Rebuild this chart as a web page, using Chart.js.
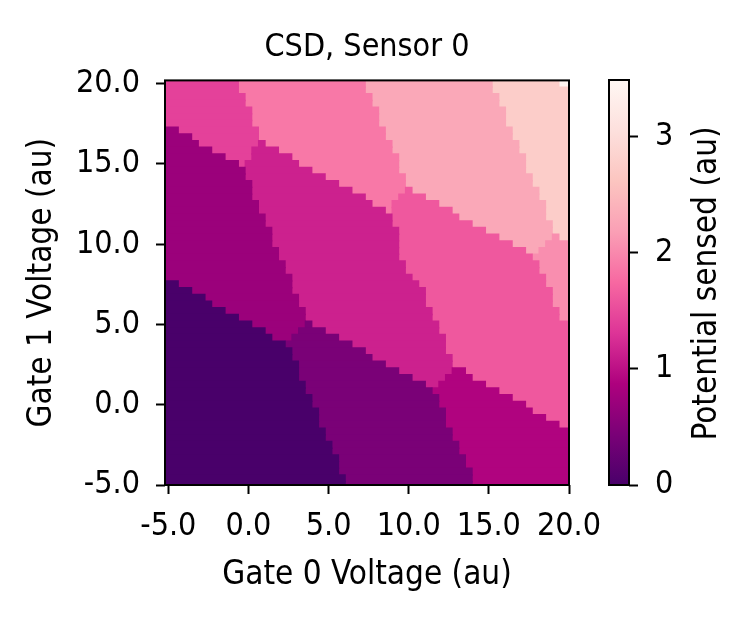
<!DOCTYPE html>
<html>
<head>
<meta charset="utf-8">
<script src="https://cdn.jsdelivr.net/npm/chart.js@4.4.1/dist/chart.umd.min.js"></script>
<style>
  html, body { margin: 0; padding: 0; background: #fff; }
  #wrap { position: relative; width: 756px; height: 623px; }
  #csd { position: absolute; left: 0; top: 0; }
  #cbar { position: absolute; left: 590px; top: 0; }
</style>
</head>
<body>
<div id="wrap">
  <canvas id="csd" width="756" height="623"></canvas>
  <canvas id="cbar" width="166" height="623"></canvas>
</div>
<script>
// gate voltage grid (both gates share it): 61 points from -5 to 20
const gridStart = -5;
const gridStep = 25 / 60;
const gridCount = 61;

const xTicks = [-5, 0, 5, 10, 15, 20];
const yTicks = [-5, 0, 5, 10, 15, 20];
const colorTicks = [0, 1, 2, 3];
const colorMax = 3.49;

// sensed potential of each charge region (index used in rowRuns)
const levelValues = [0.0, 0.44, 0.71, 0.89, 1.15, 1.42, 1.61, 1.87, 2.05, 2.29, 2.75, 3.42];

// one entry per Gate 1 row, top (20.0) to bottom (-5.0): [level, first column]
const rowRuns = [
  [[5,0],[7,11],[9,30],[10,49],[11,59]],
  [[5,0],[7,11],[9,30],[10,49]],
  [[5,0],[7,12],[9,31],[10,50]],
  [[5,0],[7,12],[9,31],[10,50]],
  [[5,0],[7,13],[9,32],[10,51]],
  [[5,0],[7,13],[9,32],[10,51]],
  [[5,0],[7,13],[9,32],[10,51]],
  [[2,0],[5,2],[7,14],[9,33],[10,52]],
  [[2,0],[5,4],[7,14],[9,33],[10,52]],
  [[2,0],[5,5],[4,14],[7,15],[9,34],[10,53]],
  [[2,0],[5,7],[4,13],[7,17],[9,34],[10,53]],
  [[2,0],[5,9],[4,13],[7,19],[9,35],[10,54]],
  [[2,0],[5,11],[4,12],[7,20],[9,35],[10,54]],
  [[2,0],[4,12],[7,22],[9,35],[10,54]],
  [[2,0],[4,12],[7,24],[9,36],[10,55]],
  [[2,0],[4,13],[7,26],[9,36],[10,55]],
  [[2,0],[4,13],[7,28],[6,36],[9,37],[10,56]],
  [[2,0],[4,13],[7,30],[6,35],[9,39],[10,56]],
  [[2,0],[4,14],[7,31],[6,34],[9,41],[10,57]],
  [[2,0],[4,14],[7,33],[6,34],[9,43],[10,57]],
  [[2,0],[4,15],[6,34],[9,44],[10,57]],
  [[2,0],[4,15],[6,34],[9,46],[10,58]],
  [[2,0],[4,16],[6,35],[9,48],[10,58]],
  [[2,0],[4,16],[6,35],[9,50],[8,58],[10,59]],
  [[2,0],[4,16],[6,35],[9,52],[8,57]],
  [[2,0],[4,17],[6,35],[9,54],[8,56]],
  [[2,0],[4,17],[6,35],[8,55]],
  [[2,0],[4,18],[6,36],[8,56]],
  [[2,0],[4,18],[6,36],[8,56]],
  [[2,0],[4,19],[6,37],[8,57]],
  [[0,0],[2,2],[4,19],[6,38],[8,57]],
  [[0,0],[2,4],[4,19],[6,39],[8,58]],
  [[0,0],[2,6],[4,20],[6,39],[8,58]],
  [[0,0],[2,7],[4,20],[6,39],[8,58]],
  [[0,0],[2,9],[4,21],[6,40],[8,59]],
  [[0,0],[2,11],[4,21],[6,40],[8,59]],
  [[0,0],[2,13],[1,21],[4,22],[6,41]],
  [[0,0],[2,15],[1,20],[4,24],[6,41]],
  [[0,0],[2,16],[1,19],[4,26],[6,42]],
  [[0,0],[1,18],[4,28],[6,42]],
  [[0,0],[1,19],[4,30],[6,42]],
  [[0,0],[1,19],[4,31],[6,43]],
  [[0,0],[1,20],[4,33],[6,43]],
  [[0,0],[1,20],[4,35],[3,43],[6,45]],
  [[0,0],[1,20],[4,37],[3,42],[6,46]],
  [[0,0],[1,21],[4,39],[3,41],[6,48]],
  [[0,0],[1,21],[3,40],[6,50]],
  [[0,0],[1,22],[3,41],[6,52]],
  [[0,0],[1,22],[3,41],[6,54]],
  [[0,0],[1,23],[3,42],[6,55]],
  [[0,0],[1,23],[3,42],[6,57]],
  [[0,0],[1,23],[3,42],[6,59]],
  [[0,0],[1,24],[3,43]],
  [[0,0],[1,24],[3,43]],
  [[0,0],[1,25],[3,44]],
  [[0,0],[1,25],[3,44]],
  [[0,0],[1,26],[3,45]],
  [[0,0],[1,26],[3,45]],
  [[0,0],[1,26],[3,46]],
  [[0,0],[1,27],[3,46]],
  [[0,0],[1,27],[3,46]]
];

// RdPu reversed
const cmapStops = ['#49006a', '#7a0177', '#ae017e', '#dd3497', '#f768a1', '#fa9fb5', '#fcc5c0', '#fde0dd', '#fff7f3'];
const FONT = '"DejaVu Sans Condensed", "DejaVu Sans", sans-serif';

Chart.defaults.font.family = FONT;
Chart.defaults.font.size = 32;
Chart.defaults.color = '#000';

function hexToRgb(h) {
  return [1, 3, 5].map(i => parseInt(h.slice(i, i + 2), 16));
}

function colorFor(v) {
  const t = Math.min(1, Math.max(0, v / colorMax)) * (cmapStops.length - 1);
  const i = Math.min(Math.floor(t), cmapStops.length - 2);
  const f = t - i;
  const a = hexToRgb(cmapStops[i]);
  const b = hexToRgb(cmapStops[i + 1]);
  const c = a.map((av, k) => Math.round(av + (b[k] - av) * f));
  return `rgb(${c[0]}, ${c[1]}, ${c[2]})`;
}

const half = gridStep / 2;
const yTop = gridStart + (gridCount - 1) * gridStep;

// one floating-bar dataset per charge region
const datasets = levelValues.map((v, level) => {
  const data = [];
  rowRuns.forEach((runs, row) => {
    runs.forEach((run, j) => {
      if (run[0] !== level) return;
      const first = run[1];
      const last = (j + 1 < runs.length ? runs[j + 1][1] : gridCount) - 1;
      data.push({
        x: [gridStart + first * gridStep - half, gridStart + last * gridStep + half],
        y: yTop - row * gridStep
      });
    });
  });
  return {
    label: 'level ' + level,
    data,
    backgroundColor: colorFor(v),
    borderWidth: 0,
    inflateAmount: 0.5,
    barPercentage: 1.06,   // slight overlap so rows leave no seams
    categoryPercentage: 1,
    grouped: false,
    clip: 0
  };
});

const framePlugin = {
  id: 'frame',
  afterDatasetsDraw(chart) {
    const { ctx, chartArea: a } = chart;
    ctx.save();
    ctx.strokeStyle = '#000';
    ctx.lineWidth = 2;
    ctx.strokeRect(a.left, a.top, a.right - a.left, a.bottom - a.top);
    ctx.restore();
  }
};

const tickGrid = { drawOnChartArea: false, offset: false, tickLength: 9, tickWidth: 2, tickColor: '#000' };

new Chart(document.getElementById('csd'), {
  type: 'bar',
  data: { datasets },
  options: {
    indexAxis: 'y',
    responsive: false,
    animation: false,
    events: [],
    layout: { padding: { left: 0, right: 187, top: 0, bottom: 0 } },
    plugins: {
      legend: { display: false },
      tooltip: { enabled: false },
      title: {
        display: true,
        fullSize: false,
        text: 'CSD, Sensor 0',
        color: '#000',
        font: { size: 32, weight: 'normal' },
        padding: { top: 28, bottom: 14 }
      }
    },
    scales: {
      x: {
        type: 'linear',
        min: gridStart - half,
        max: 20,
        afterBuildTicks: s => { s.ticks = xTicks.map(v => ({ value: v })); },
        afterFit: s => { s.height = 138; },
        ticks: { padding: 13, autoSkip: false, maxRotation: 0, callback: v => v.toFixed(1) },
        grid: tickGrid,
        border: { display: false },
        title: { display: true, text: 'Gate 0 Voltage (au)', font: { size: 33 }, padding: { top: 0, bottom: 28 } }
      },
      y: {
        type: 'linear',
        offset: false,
        min: -5,
        max: yTop + half,
        afterBuildTicks: s => { s.ticks = yTicks.map(v => ({ value: v })); },
        afterFit: s => { s.width = 165; },
        ticks: { padding: 16, autoSkip: false, callback: v => v.toFixed(1) },
        grid: tickGrid,
        border: { display: false },
        title: { display: true, text: 'Gate 1 Voltage (au)', font: { size: 33 }, padding: { top: 23, bottom: 0 } }
      }
    }
  },
  plugins: [framePlugin]
});

const cbarTitle = {
  id: 'cbarTitle',
  afterDraw(chart) {
    const { ctx, chartArea: a } = chart;
    ctx.save();
    ctx.translate(117, (a.top + a.bottom) / 2 + 1);
    ctx.rotate(-Math.PI / 2);
    ctx.font = '33px ' + FONT;
    ctx.fillStyle = '#000';
    ctx.textAlign = 'center';
    ctx.textBaseline = 'middle';
    ctx.fillText('Potential sensed (au)', 0, 0);
    ctx.restore();
  }
};

new Chart(document.getElementById('cbar'), {
  type: 'bar',
  data: {
    labels: [''],
    datasets: [{
      data: [[0, colorMax]],
      backgroundColor: c => {
        const a = c.chart.chartArea;
        if (!a) return null;
        const g = c.chart.ctx.createLinearGradient(0, a.bottom, 0, a.top);
        cmapStops.forEach((col, i) => g.addColorStop(i / (cmapStops.length - 1), col));
        return g;
      },
      borderWidth: 0,
      barPercentage: 1,
      categoryPercentage: 1
    }]
  },
  options: {
    responsive: false,
    animation: false,
    events: [],
    layout: { padding: { left: 19, right: 0, top: 80, bottom: 138 } },
    plugins: { legend: { display: false }, tooltip: { enabled: false } },
    scales: {
      x: { display: false },
      y: {
        position: 'right',
        min: 0,
        max: colorMax,
        afterBuildTicks: s => { s.ticks = colorTicks.map(v => ({ value: v })); },
        afterFit: s => { s.width = 127; },
        ticks: { padding: 17, callback: v => String(v) },
        grid: tickGrid,
        border: { display: false }
      }
    }
  },
  plugins: [framePlugin, cbarTitle]
});
</script>
</body>
</html>
